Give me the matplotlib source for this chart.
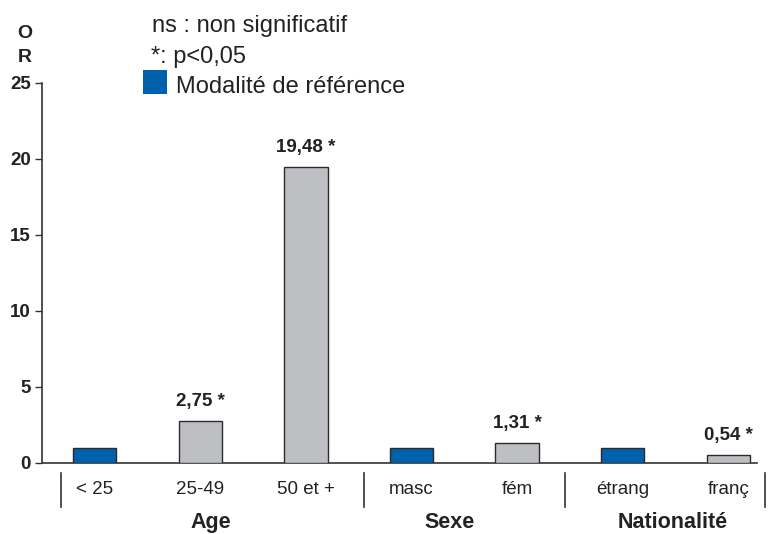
import matplotlib
matplotlib.use("Agg")
import matplotlib.pyplot as plt
import matplotlib.patches as mpatches

plt.rcParams['font.family'] = ['Liberation Sans', 'DejaVu Sans']

categories = ["< 25", "25-49", "50 et +", "masc", "fém", "étrang", "franç"]
values = [1.0, 2.75, 19.48, 1.0, 1.31, 1.0, 0.54]
is_reference = [True, False, False, True, False, True, False]
value_labels = [None, "2,75 *", "19,48 *", None, "1,31 *", None, "0,54 *"]
groups = ["Age", "Sexe", "Nationalité"]
group_centers = [1.10, 3.36, 5.47]
separators = [-0.32, 2.55, 4.45, 6.35]
yticks = [0, 5, 10, 15, 20, 25]

blue = "#0061AB"
grey = "#BEBFC3"
edge = "#2b2b2b"
txt = "#222222"

fig = plt.figure(figsize=(7.77, 5.34), dpi=100)
ax = fig.add_axes([0.054, 0.133, 0.920, 0.712])

x = list(range(len(categories)))
colors = [blue if r else grey for r in is_reference]
ax.bar(x, values, width=0.41, color=colors, edgecolor=edge, linewidth=1.0, zorder=3)

for xi, v, lab in zip(x, values, value_labels):
    if lab:
        ax.annotate(lab, (xi, v), xytext=(0, 14), textcoords="offset points",
                    ha="center", va="center", fontsize=13.5, fontweight="bold", color=txt)

ax.set_xlim(-0.50, 6.27)
ax.set_ylim(0, 25)
ax.set_yticks(yticks)
ax.set_yticklabels([str(t) for t in yticks], fontsize=13.5, fontweight="bold", color=txt)
ax.tick_params(axis="y", direction="out", length=5, width=1, color="#333", pad=3)
ax.set_xticks([])
ax.spines["top"].set_visible(False)
ax.spines["right"].set_visible(False)
for s in ["left", "bottom"]:
    ax.spines[s].set_color("#333")
    ax.spines[s].set_linewidth(1.2)

trans = ax.get_xaxis_transform()
for xi, c in zip(x, categories):
    ax.text(xi, -0.071, c, transform=trans, ha="center", va="center", fontsize=13.5, color=txt)
for gc, g in zip(group_centers, groups):
    ax.text(gc, -0.157, g, transform=trans, ha="center", va="center", fontsize=15.5,
            fontweight="bold", color=txt)
for sx in separators:
    ax.plot([sx, sx], [-0.026, -0.116], transform=trans, color="#333", lw=1.2, clip_on=False)

fig.text(25/777, 1 - 33/534, "O", ha="center", va="center", fontsize=14, fontweight="bold", color=txt)
fig.text(25/777, 1 - 57/534, "R", ha="center", va="center", fontsize=14, fontweight="bold", color=txt)

fig.text(152/777, 1 - 32/534, "ns : non significatif", ha="left", va="baseline", fontsize=17, color=txt)
fig.text(151/777, 1 - 63/534, "*: p<0,05", ha="left", va="baseline", fontsize=17, color=txt)
fig.patches.append(mpatches.Rectangle((143/777, 1 - 94/534), 24/777, 24/534,
                                      transform=fig.transFigure, facecolor=blue, edgecolor="none"))
fig.text(176/777, 1 - 93/534, "Modalité de référence", ha="left", va="baseline", fontsize=17, color=txt)

fig.savefig("out.png", dpi=100)
